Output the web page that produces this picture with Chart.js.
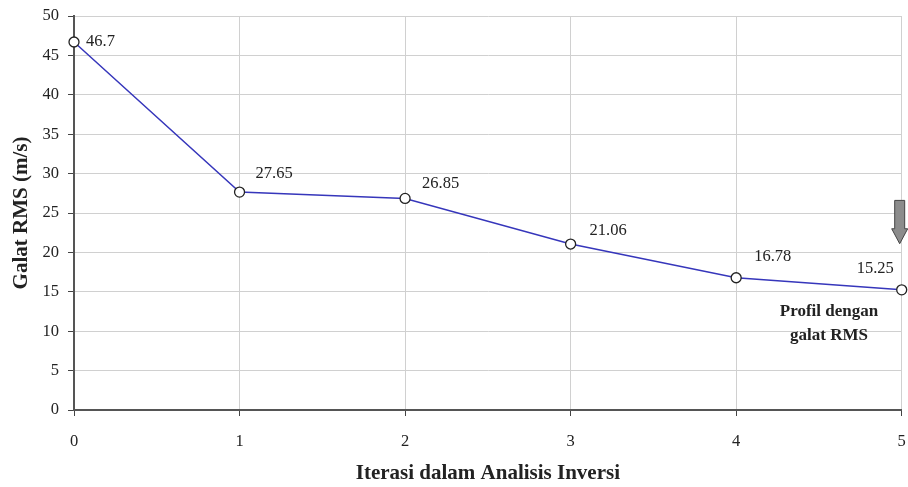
<!DOCTYPE html>
<html>
<head>
<meta charset="utf-8">
<script src="https://cdn.jsdelivr.net/npm/chart.js@4"></script>
<style>
  html, body { margin: 0; padding: 0; background: #fff; }
  #wrap { width: 908px; height: 487px; }
</style>
</head>
<body>
<div id="wrap"><canvas id="grafik"></canvas></div>
<script>
const iterasi = [0, 1, 2, 3, 4, 5];
const galatRMS = [46.7, 27.65, 26.85, 21.06, 16.78, 15.25];
const labelNilai = ["46.7", "27.65", "26.85", "21.06", "16.78", "15.25"];

const serif = "'Liberation Serif', 'Times New Roman', serif";

// posisi label di samping titik (dx, dy dalam piksel)
const geserLabel = [[12, 0], [16, -18], [17, -15], [19, -13], [18, -21], [-45, -21]];

const labelPlugin = {
  id: 'labelPlugin',
  afterDatasetsDraw(chart) {
    const ctx = chart.ctx;
    const meta = chart.getDatasetMeta(0);
    ctx.save();
    ctx.font = "16.5px " + serif;
    ctx.fillStyle = '#222';
    ctx.textAlign = 'left';
    ctx.textBaseline = 'middle';
    meta.data.forEach((pt, i) => {
      ctx.fillText(labelNilai[i], pt.x + geserLabel[i][0], pt.y + geserLabel[i][1]);
    });

    // catatan profil
    ctx.font = "bold 17px " + serif;
    ctx.textAlign = 'center';
    ctx.fillText('Profil dengan', 829, 312);
    ctx.fillText('galat RMS', 829, 336);

    // panah abu-abu
    const xs = chart.scales.x, ys = chart.scales.y;
    const ax = xs.getPixelForValue(5) - 2;
    const top = ys.getPixelForValue(26.6);
    const mid = ys.getPixelForValue(23);
    const tip = ys.getPixelForValue(21.1);
    ctx.beginPath();
    ctx.moveTo(ax - 5, top);
    ctx.lineTo(ax + 5, top);
    ctx.lineTo(ax + 5, mid);
    ctx.lineTo(ax + 8, mid);
    ctx.lineTo(ax, tip);
    ctx.lineTo(ax - 8, mid);
    ctx.lineTo(ax - 5, mid);
    ctx.closePath();
    ctx.fillStyle = '#8c8c8c';
    ctx.fill();
    ctx.strokeStyle = '#444';
    ctx.lineWidth = 1;
    ctx.stroke();
    ctx.restore();
  }
};

new Chart(document.getElementById('grafik'), {
  type: 'line',
  data: {
    datasets: [{
      data: iterasi.map((x, i) => ({ x: x, y: galatRMS[i] })),
      borderColor: '#3636bb',
      borderWidth: 1.5,
      pointRadius: 5,
      pointBackgroundColor: '#fff',
      pointBorderColor: '#222',
      pointBorderWidth: 1.3,
      tension: 0,
      clip: false
    }]
  },
  options: {
    responsive: true,
    maintainAspectRatio: false,
    animation: false,
    layout: { padding: { top: 16, right: 6, left: 0, bottom: 0 } },
    plugins: { legend: { display: false }, tooltip: { enabled: false } },
    scales: {
      x: {
        type: 'linear',
        min: 0,
        max: 5,
        ticks: { stepSize: 1, color: '#222', padding: 16, font: { family: serif, size: 16.5 } },
        grid: { color: '#d0d0d0', tickColor: '#444', tickLength: 6, lineWidth: 1 },
        border: { color: '#555', width: 2 },
        title: {
          display: true,
          text: 'Iterasi dalam Analisis Inversi',
          color: '#222',
          padding: { top: 10, bottom: 1 },
          font: { family: serif, size: 21, weight: 'bold' }
        },
        afterFit(scale) {
          scale.height = 77;
          scale.paddingRight = 0;
          scale.paddingLeft = 0;
        }
      },
      y: {
        min: 0,
        max: 50,
        ticks: { stepSize: 5, color: '#222', padding: 9, font: { family: serif, size: 16.5 } },
        grid: { color: '#d0d0d0', tickColor: '#444', tickLength: 6, lineWidth: 1 },
        border: { color: '#555', width: 2 },
        title: {
          display: true,
          text: 'Galat RMS (m/s)',
          color: '#222',
          padding: { top: 9, bottom: 4 },
          font: { family: serif, size: 21, weight: 'bold' }
        },
        afterFit(scale) {
          scale.width = 74;
          scale.paddingTop = 0;
          scale.paddingBottom = 0;
        }
      }
    }
  },
  plugins: [labelPlugin]
});
</script>
</body>
</html>
